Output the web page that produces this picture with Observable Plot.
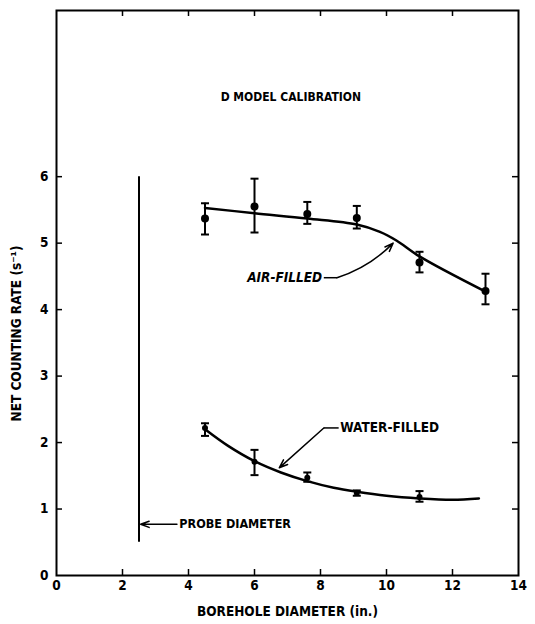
<!DOCTYPE html>
<html><head><meta charset="utf-8">
<script src="https://cdn.jsdelivr.net/npm/d3@7"></script>
<script src="https://cdn.jsdelivr.net/npm/@observablehq/plot@0.6"></script>
<style>
body{margin:0;background:#fff;}
</style></head><body><div id="chart"></div>
<script>
// ---- data ----
const xTicks = [0, 2, 4, 6, 8, 10, 12, 14];
const xInnerTicks = [2, 4, 6, 8, 10, 12];
const yTicks = [0, 1, 2, 3, 4, 5, 6];
const yInnerTicks = [1, 2, 3, 4, 5, 6];

const airDiam = [4.5, 6.0, 7.6, 9.1, 11.0, 13.0];
const airRate = [5.37, 5.55, 5.44, 5.38, 4.71, 4.28];
const airLow  = [5.13, 5.16, 5.29, 5.22, 4.56, 4.08];
const airHigh = [5.60, 5.97, 5.62, 5.56, 4.87, 4.54];

const waterDiam = [4.5, 6.0, 7.6, 9.1, 11.0];
const waterRate = [2.22, 1.71, 1.47, 1.24, 1.18];
const waterLow  = [2.10, 1.51, 1.41, 1.20, 1.11];
const waterHigh = [2.29, 1.89, 1.55, 1.28, 1.27];

const airCurveX = [4.5, 6.0, 7.6, 9.1, 9.8, 10.3, 11.0, 13.0];
const airCurveY = [5.53, 5.45, 5.37, 5.28, 5.17, 5.04, 4.80, 4.27];
const waterCurveX = [4.5, 5.2, 6.0, 6.8, 7.6, 8.4, 9.1, 10.0, 11.0, 12.0, 12.8];
const waterCurveY = [2.20, 1.95, 1.72, 1.55, 1.42, 1.32, 1.26, 1.20, 1.16, 1.14, 1.16];

const probeX = [2.5];
const probeY1 = [0.5];
const probeY2 = [6.0];

const titleText = ["D MODEL CALIBRATION"];
const titlePos = [7.1, 7.2];
const xLabel = ["BOREHOLE DIAMETER (in.)"];
const yLabel = ["NET COUNTING RATE (s\u207B\u00B9)"];

const noteText = ["AIR-FILLED", "WATER-FILLED", "PROBE DIAMETER"];
const noteX = [8.05, 8.6, 3.72];
const noteY = [4.48, 2.22, 0.77];
const noteStyle = ["italic", "normal", "normal"];
const noteSize = [13.5, 13.5, 12.5];

// leader segments (straight) and arrows
const leaderX1 = [8.1, 8.55];
const leaderX2 = [8.5, 8.1];
const leaderY = [4.48, 2.22];
const arrowX1 = [8.5, 8.1, 3.65];
const arrowY1 = [4.48, 2.22, 0.77];
const arrowX2 = [10.2, 6.75, 2.55];
const arrowY2 = [5.0, 1.62, 0.77];
const arrowBend = [-14, 0, 0];

// ---- tables ----
const air = airDiam.map((x, i) => ({x, y: airRate[i], lo: airLow[i], hi: airHigh[i]}));
const water = waterDiam.map((x, i) => ({x, y: waterRate[i], lo: waterLow[i], hi: waterHigh[i]}));
const airCurve = airCurveX.map((x, i) => ({x, y: airCurveY[i]}));
const waterCurve = waterCurveX.map((x, i) => ({x, y: waterCurveY[i]}));
const probe = probeX.map((x, i) => ({x, y1: probeY1[i], y2: probeY2[i]}));
const notes = noteText.map((t, i) => ({t, x: noteX[i], y: noteY[i], s: noteStyle[i], f: noteSize[i]}));
const leaders = leaderX1.map((x1, i) => ({x1, x2: leaderX2[i], y: leaderY[i]}));
const arrows = arrowX1.map((x1, i) => ({x1, y1: arrowY1[i], x2: arrowX2[i], y2: arrowY2[i], b: arrowBend[i]}));

const capSymbol = {draw(ctx, size) { const r = Math.sqrt(size / Math.PI); ctx.moveTo(-r, 0); ctx.lineTo(r, 0); }};
const FONT = "'DejaVu Sans Condensed', 'Liberation Sans Narrow', 'DejaVu Sans', sans-serif";

const W = 535, H = 624, ML = 56, MR = 17, MT = 10, MB = 49, TICK = 6;
const innerW = W - ML - MR, innerH = H - MT - MB;

const errMarks = (data) => [
  Plot.ruleX(data, {x: "x", y1: "lo", y2: "hi", strokeWidth: 2}),
  Plot.dot(data, {x: "x", y: "lo", symbol: capSymbol, r: 4, stroke: "black", strokeWidth: 2}),
  Plot.dot(data, {x: "x", y: "hi", symbol: capSymbol, r: 4, stroke: "black", strokeWidth: 2})
];

const chart = Plot.plot({
  width: W,
  height: H,
  marginLeft: ML,
  marginRight: MR,
  marginTop: MT,
  marginBottom: MB,
  style: {fontFamily: FONT, fontSize: "12px", fontWeight: "bold", color: "black", background: "white"},
  x: {domain: [0, 14]},
  y: {domain: [0, 8.5]},
  marks: [
    Plot.frame({strokeWidth: 2}),
    Plot.axisX(xTicks, {anchor: "bottom", tickSize: 0, tickPadding: 5, label: null, fontSize: 13.5, tickFormat: d3.format("d")}),
    Plot.axisY(yTicks, {anchor: "left", tickSize: 0, tickPadding: 8, label: null, fontSize: 13.5, tickFormat: d3.format("d")}),
    // inward ticks
    Plot.ruleX(xInnerTicks, {x: d => d, insetTop: innerH - TICK, strokeWidth: 1.5}),
    Plot.ruleX(xInnerTicks, {x: d => d, insetBottom: innerH - TICK, strokeWidth: 1.5}),
    Plot.ruleY(yInnerTicks, {y: d => d, insetRight: innerW - TICK, strokeWidth: 1.5}),
    Plot.ruleY(yInnerTicks, {y: d => d, insetLeft: innerW - TICK, strokeWidth: 1.5}),
    Plot.text(xLabel, {frameAnchor: "bottom", x: 7, dy: 40, fontSize: 13.5, text: d => d}),
    Plot.text(yLabel, {frameAnchor: "left", y: 3.64, dx: -40, rotate: -90, textAnchor: "middle", fontSize: 13.5, text: d => d}),
    Plot.text(titleText, {x: titlePos[0], y: titlePos[1], fontSize: 12, text: d => d}),
    // probe diameter
    Plot.ruleX(probe, {x: "x", y1: "y1", y2: "y2", strokeWidth: 2}),
    // curves
    Plot.line(airCurve, {x: "x", y: "y", curve: "catmull-rom", strokeWidth: 2.5}),
    Plot.line(waterCurve, {x: "x", y: "y", curve: "catmull-rom", strokeWidth: 2.5}),
    // error bars & points
    ...errMarks(air),
    ...errMarks(water),
    Plot.dot(air, {x: "x", y: "y", r: 4, fill: "black"}),
    Plot.dot(water, {x: "x", y: "y", r: 3, fill: "black"}),
    // annotations
    Plot.link(leaders, {x1: "x1", x2: "x2", y1: "y", y2: "y", strokeWidth: 1.5}),
    Plot.arrow(arrows.filter(d => d.b !== 0), {x1: "x1", y1: "y1", x2: "x2", y2: "y2", bend: arrowBend[0], strokeWidth: 1.5, headLength: 9, headAngle: 40}),
    Plot.arrow(arrows.filter(d => d.b === 0), {x1: "x1", y1: "y1", x2: "x2", y2: "y2", strokeWidth: 1.5, headLength: 9, headAngle: 40}),
    Plot.text(notes.filter(d => d.s === "italic"), {x: "x", y: "y", text: "t", textAnchor: "end", fontStyle: "italic", fontSize: noteSize[0]}),
    Plot.text(notes.filter(d => d.s !== "italic" && d.f === noteSize[1]), {x: "x", y: "y", text: "t", textAnchor: "start", fontSize: noteSize[1]}),
    Plot.text(notes.filter(d => d.s !== "italic" && d.f !== noteSize[1]), {x: "x", y: "y", text: "t", textAnchor: "start", fontSize: noteSize[2]})
  ]
});
document.getElementById("chart").appendChild(chart);
</script>
</body></html>
